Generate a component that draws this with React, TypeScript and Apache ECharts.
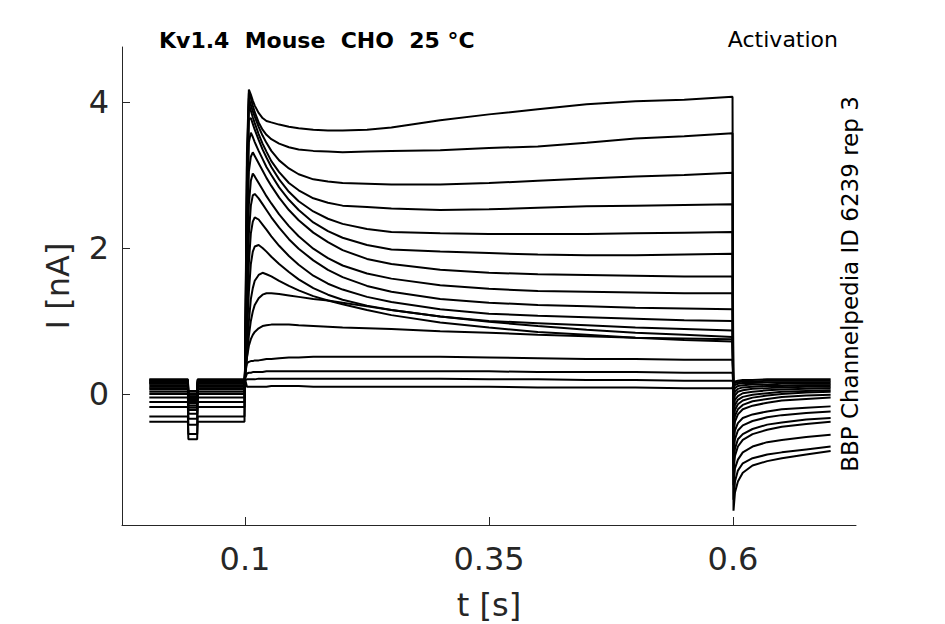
import React, { useEffect, useRef } from 'react';
import * as echarts from 'echarts';

// time points (s)
const preTimes = [0.002, 0.0415, 0.042, 0.051, 0.0515, 0.0995];
const stepTimes = [
  0.1005, 0.102, 0.104, 0.106, 0.108, 0.11, 0.114, 0.118, 0.122, 0.127, 0.135, 0.145, 0.155,
  0.17, 0.185, 0.2, 0.225, 0.25, 0.3, 0.35, 0.4, 0.45, 0.5, 0.55, 0.5995,
];
const tailTimes = [0.6005, 0.602, 0.605, 0.61, 0.62, 0.635, 0.65, 0.675, 0.7];

// holding current before the step and during the short notch (nA), one per sweep
const holdingCurrent = [
  -0.38, -0.31, -0.18, -0.11, -0.05, 0.0, 0.03, 0.06, 0.08, 0.1, 0.12, 0.14, 0.15, 0.16, 0.17,
  0.18, 0.19, 0.2,
];
const notchCurrent = [
  -0.62, -0.55, -0.42, -0.34, -0.27, -0.22, -0.19, -0.16, -0.13, -0.11, -0.09, -0.07, -0.06,
  -0.04, -0.03, -0.01, 0.01, 0.04,
];

// current during the step (nA), one row per sweep, at stepTimes
const stepCurrents = [
  [1.0, 3.3, 4.17, 4.1, 4.02, 3.95, 3.85, 3.78, 3.74, 3.72, 3.69, 3.66, 3.64, 3.62, 3.61, 3.61, 3.62, 3.65, 3.75, 3.83, 3.9, 3.97, 4.01, 4.03, 4.07],
  [0.9, 3.1, 4.12, 4.05, 3.95, 3.86, 3.72, 3.62, 3.55, 3.49, 3.43, 3.38, 3.35, 3.33, 3.32, 3.31, 3.32, 3.33, 3.34, 3.37, 3.39, 3.44, 3.5, 3.53, 3.57],
  [0.8, 2.9, 4.05, 3.96, 3.87, 3.8, 3.66, 3.54, 3.44, 3.33, 3.2, 3.09, 3.01, 2.94, 2.91, 2.89, 2.88, 2.87, 2.87, 2.89, 2.92, 2.95, 2.98, 3.0, 3.03],
  [0.7, 2.7, 3.97, 3.88, 3.79, 3.71, 3.56, 3.43, 3.32, 3.19, 3.04, 2.89, 2.79, 2.68, 2.62, 2.58, 2.56, 2.54, 2.52, 2.53, 2.55, 2.57, 2.58, 2.59, 2.6],
  [0.7, 2.5, 3.76, 3.78, 3.7, 3.62, 3.48, 3.35, 3.24, 3.11, 2.94, 2.77, 2.64, 2.5, 2.4, 2.33, 2.26, 2.22, 2.2, 2.19, 2.19, 2.19, 2.2, 2.21, 2.22],
  [0.6, 2.3, 3.45, 3.58, 3.52, 3.45, 3.33, 3.22, 3.11, 3.0, 2.83, 2.66, 2.52, 2.35, 2.23, 2.14, 2.04, 1.98, 1.95, 1.93, 1.91, 1.9, 1.9, 1.91, 1.92],
  [0.6, 2.0, 3.05, 3.25, 3.31, 3.26, 3.16, 3.06, 2.96, 2.85, 2.69, 2.52, 2.38, 2.21, 2.08, 1.97, 1.85, 1.78, 1.7, 1.66, 1.64, 1.63, 1.62, 1.61, 1.61],
  [0.5, 1.8, 2.6, 2.92, 3.02, 2.98, 2.89, 2.8, 2.71, 2.61, 2.46, 2.3, 2.16, 1.99, 1.86, 1.76, 1.65, 1.58, 1.49, 1.44, 1.41, 1.4, 1.39, 1.38, 1.38],
  [0.5, 1.2, 2.2, 2.58, 2.72, 2.74, 2.68, 2.6, 2.52, 2.42, 2.28, 2.12, 1.99, 1.83, 1.7, 1.6, 1.48, 1.4, 1.3, 1.25, 1.22, 1.2, 1.18, 1.17, 1.16],
  [0.45, 1.0, 1.8, 2.2, 2.36, 2.42, 2.39, 2.32, 2.25, 2.16, 2.03, 1.89, 1.77, 1.62, 1.51, 1.43, 1.33, 1.26, 1.16, 1.1, 1.07, 1.05, 1.03, 1.01, 1.0],
  [0.4, 0.8, 1.4, 1.78, 1.95, 2.02, 2.04, 2.0, 1.95, 1.88, 1.78, 1.67, 1.57, 1.45, 1.36, 1.29, 1.21, 1.15, 1.06, 1.0, 0.97, 0.94, 0.91, 0.89, 0.87],
  [0.35, 0.6, 1.0, 1.3, 1.45, 1.55, 1.63, 1.66, 1.64, 1.61, 1.55, 1.48, 1.42, 1.34, 1.28, 1.23, 1.15, 1.08, 0.98, 0.91, 0.85, 0.81, 0.77, 0.74, 0.72],
  [0.3, 0.5, 0.8, 1.0, 1.13, 1.22, 1.31, 1.36, 1.38, 1.38, 1.37, 1.35, 1.33, 1.3, 1.28, 1.25, 1.2, 1.15, 1.06, 0.99, 0.93, 0.88, 0.84, 0.81, 0.78],
  [0.3, 0.5, 0.66, 0.75, 0.81, 0.85, 0.9, 0.93, 0.94, 0.95, 0.95, 0.95, 0.94, 0.93, 0.92, 0.91, 0.9, 0.89, 0.86, 0.84, 0.81, 0.79, 0.77, 0.76, 0.75],
  [0.3, 0.42, 0.44, 0.45, 0.45, 0.46, 0.46, 0.47, 0.48, 0.48, 0.49, 0.5, 0.5, 0.51, 0.51, 0.51, 0.51, 0.51, 0.51, 0.5, 0.49, 0.48, 0.48, 0.47, 0.47],
  [0.22, 0.28, 0.29, 0.29, 0.3, 0.3, 0.3, 0.3, 0.31, 0.31, 0.31, 0.31, 0.31, 0.31, 0.31, 0.31, 0.31, 0.31, 0.31, 0.31, 0.3, 0.3, 0.3, 0.29, 0.29],
  [0.19, 0.2, 0.2, 0.2, 0.2, 0.2, 0.21, 0.21, 0.21, 0.21, 0.21, 0.21, 0.21, 0.21, 0.21, 0.21, 0.21, 0.21, 0.21, 0.2, 0.2, 0.19, 0.19, 0.18, 0.18],
  [0.18, 0.1, 0.1, 0.1, 0.1, 0.1, 0.1, 0.1, 0.1, 0.11, 0.11, 0.11, 0.11, 0.1, 0.1, 0.1, 0.1, 0.1, 0.1, 0.1, 0.09, 0.09, 0.09, 0.08, 0.08],
];

// tail currents after the step (nA), one row per sweep, at tailTimes
const tailCurrents = [
  [-1.6, -1.35, -1.2, -1.08, -0.98, -0.92, -0.88, -0.83, -0.78],
  [-1.45, -1.2, -1.05, -0.95, -0.88, -0.83, -0.8, -0.76, -0.72],
  [-1.25, -1.02, -0.9, -0.8, -0.72, -0.66, -0.63, -0.59, -0.56],
  [-1.05, -0.85, -0.72, -0.63, -0.55, -0.49, -0.45, -0.41, -0.38],
  [-0.95, -0.75, -0.62, -0.55, -0.48, -0.42, -0.39, -0.35, -0.33],
  [-0.8, -0.62, -0.5, -0.43, -0.37, -0.32, -0.29, -0.26, -0.24],
  [-0.68, -0.5, -0.4, -0.33, -0.28, -0.24, -0.21, -0.19, -0.17],
  [-0.55, -0.38, -0.28, -0.21, -0.16, -0.12, -0.09, -0.07, -0.05],
  [-0.45, -0.3, -0.21, -0.15, -0.1, -0.07, -0.04, -0.02, -0.01],
  [-0.36, -0.22, -0.14, -0.09, -0.05, -0.02, 0.0, 0.02, 0.03],
  [-0.28, -0.15, -0.08, -0.04, -0.01, 0.01, 0.03, 0.04, 0.05],
  [-0.2, -0.08, -0.03, 0.01, 0.03, 0.05, 0.06, 0.07, 0.08],
  [-0.12, -0.02, 0.03, 0.05, 0.07, 0.08, 0.09, 0.1, 0.1],
  [-0.05, 0.03, 0.07, 0.09, 0.1, 0.11, 0.11, 0.12, 0.12],
  [0.02, 0.08, 0.11, 0.12, 0.13, 0.13, 0.14, 0.14, 0.14],
  [0.08, 0.12, 0.14, 0.15, 0.15, 0.16, 0.16, 0.16, 0.16],
  [0.12, 0.15, 0.16, 0.17, 0.17, 0.18, 0.18, 0.18, 0.18],
  [0.15, 0.17, 0.18, 0.19, 0.19, 0.2, 0.2, 0.2, 0.2],
];

const xTicks = [0.1, 0.35, 0.6];
const yTicks = [0, 2, 4];

const FONT = 'DejaVu Sans';
const AXIS_COLOR = '#262626';

const App: React.FC = () => {
  const chartRef = useRef<HTMLDivElement>(null);

  useEffect(() => {
    if (!chartRef.current) return;
    const chart = echarts.init(chartRef.current, null, { renderer: 'svg' });

    const series = stepCurrents.map((row, i) => {
      const b = holdingCurrent[i];
      const n = notchCurrent[i];
      const preVals = [b, b, n, n, b, b];
      const data = [
        ...preTimes.map((t, k) => [t, preVals[k]]),
        ...stepTimes.map((t, k) => [t, row[k]]),
        ...tailTimes.map((t, k) => [t, tailCurrents[i][k]]),
      ];
      return {
        type: 'line',
        data,
        showSymbol: false,
        silent: true,
        lineStyle: { color: '#000', width: 2 },
      };
    });

    const option = {
      animation: false,
      grid: { left: 122, right: 89, top: 47, bottom: 99, outerBoundsMode: 'none' },
      xAxis: {
        type: 'value',
        min: -0.026,
        max: 0.726,
        name: 't [s]',
        nameLocation: 'middle',
        nameGap: 64,
        nameTextStyle: { fontSize: 32, color: AXIS_COLOR, fontFamily: FONT },
        axisLine: { show: true, onZero: false, lineStyle: { color: AXIS_COLOR, width: 1 } },
        axisTick: { show: true, inside: true, length: 8, customValues: xTicks, lineStyle: { color: AXIS_COLOR } },
        axisLabel: {
          customValues: xTicks,
          fontSize: 32,
          color: AXIS_COLOR,
          fontFamily: FONT,
          margin: 18,
          formatter: (v: number) => String(v),
        },
        splitLine: { show: false },
      },
      yAxis: {
        type: 'value',
        min: -1.795,
        max: 4.753,
        name: 'I [nA]',
        nameLocation: 'middle',
        nameGap: 48,
        nameTextStyle: { fontSize: 32, color: AXIS_COLOR, fontFamily: FONT },
        axisLine: { show: true, onZero: false, lineStyle: { color: AXIS_COLOR, width: 1 } },
        axisTick: { show: true, inside: true, length: 8, customValues: yTicks, lineStyle: { color: AXIS_COLOR } },
        axisLabel: {
          customValues: yTicks,
          fontSize: 32,
          color: AXIS_COLOR,
          fontFamily: FONT,
          margin: 13,
        },
        splitLine: { show: false },
      },
      graphic: [
        {
          type: 'text',
          x: 159,
          y: 40,
          style: {
            text: 'Kv1.4  Mouse  CHO  25 °C',
            fontSize: 22,
            fontWeight: 'bold',
            fontFamily: FONT,
            fill: '#000',
            align: 'left',
            verticalAlign: 'middle',
          },
        },
        {
          type: 'text',
          x: 838,
          y: 39,
          style: {
            text: 'Activation',
            fontSize: 22,
            fontFamily: FONT,
            fill: '#000',
            align: 'right',
            verticalAlign: 'middle',
          },
        },
        {
          type: 'text',
          x: 850,
          y: 284,
          rotation: Math.PI / 2,
          style: {
            text: 'BBP Channelpedia ID 6239 rep 3',
            fontSize: 23,
            fontFamily: FONT,
            fill: '#000',
            align: 'center',
            verticalAlign: 'middle',
          },
        },
      ],
      series,
    };

    chart.setOption(option);
    return () => {
      chart.dispose();
    };
  }, []);

  return (
    <div
      ref={chartRef}
      style={{ position: 'absolute', left: 0, top: 0, width: 945, height: 624, background: '#fff' }}
    />
  );
};

export default App;
